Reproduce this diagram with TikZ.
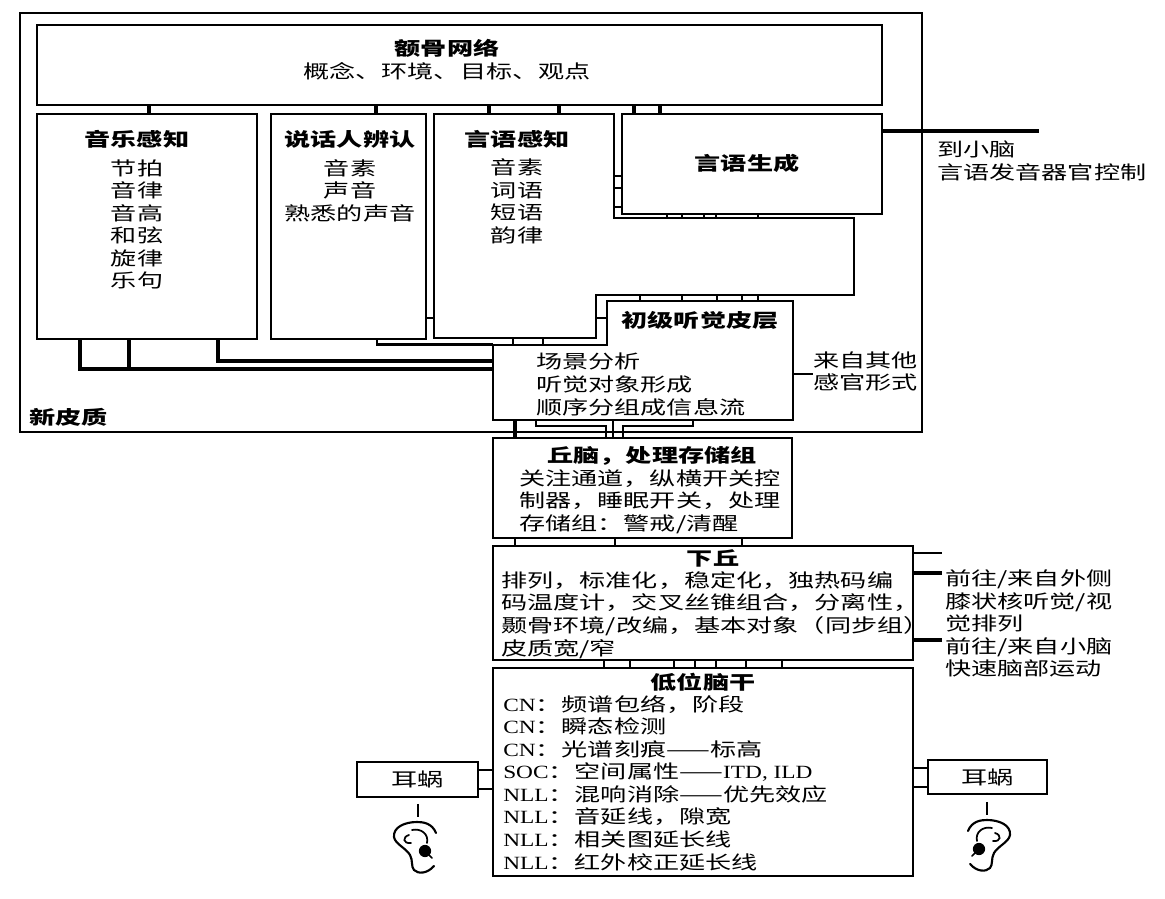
\documentclass[tikz,border=0pt]{standalone}
\usepackage{fontspec}
\setmainfont[FakeStretch=1.25]{Liberation Serif}
\newfontfamily\cjk[FakeStretch=1.4]{Noto Sans CJK SC}
\usetikzlibrary{fit}
\newcommand\lat[1]{{\rmfamily #1}}
\tikzset{
  box/.style={draw, line width=1.3pt, inner sep=0pt, fill=white},
  poly/.style={draw, line width=1.3pt, fill=white},
  conn/.style={line width=2.4pt},
  rung/.style={line width=1.6pt},
  thin/.style={line width=1.1pt},
  txt/.style={font=\cjk\fontsize{14}{16.9}\selectfont, inner sep=0pt},
  ttl/.style={font=\cjk\fontsize{14}{16.9}\selectfont\bfseries, inner sep=0pt},
  ear/.pic={
    \draw[line width=1.6pt, line cap=round] (21,-14) .. controls (17,-24) and (8,-25) .. (2,-25)
       .. controls (-10,-25) and (-22,-20) .. (-21,-10)
       .. controls (-20,-3) and (-9,1) .. (-5,8)
       .. controls (-2,13) and (-4,20) .. (-1,23)
       .. controls (3,27) and (12,27) .. (19,19);
    \draw[line width=1.3pt, line cap=round] (-6,-12) .. controls (-13,-10) and (-12,-3) .. (-4,-4);
    \draw[line width=1.3pt, line cap=round] (-3,-17) .. controls (6,-19) and (14,-13) .. (12,-4);
    \fill (10,4) circle (4.6pt);
    \draw[line width=1.3pt, line cap=round] (10,4) -- (17,11);
  }
}
\begin{document}
\begin{tikzpicture}[x=0.75pt,y=-0.75pt,line join=miter]
\useasboundingbox (0,0) rectangle (1165,899);
\fill[white] (0,0) rectangle (1165,899);

% neocortex outer box
\node[box, fill=none, fit={(20,13) (922,432)}] (neo) {};
\node[ttl, anchor=west] (neolbl) at (29,417) {新皮质};

% connectors (drawn first, boxes on top)
% music -> primary
\draw[conn] (80,339) -- (80,369) -- (493,369);
\draw[conn] (129,339) -- (129,369);
\draw[conn] (218,339) -- (218,361) -- (493,361);
% speaker -> primary
\draw[rung] (377,339) -- (377,344.5) -- (493,344.5);
% primary -> thalamus
\draw[conn] (515,420) -- (515,438);
\draw[rung] (536,420) -- (536,426) -- (606,426) -- (606,438);
\draw[rung] (613,420) -- (613,438);
\draw[rung] (623,438) -- (623,426) -- (693,426) -- (693,420);

% frontal network
\node[box, fit={(37,25) (882,105)}] (frontal) {};
\node[ttl] (frontalT) at (447,48) {额骨网络};
\node[txt] (frontalS) at (447,71) {概念、环境、目标、观点};

% stubs frontal -> boxes
\foreach \x in {149,376,489,559,634,660}
  \draw[conn] (\x,0 |- frontal.south) -- (\x,114);

% music perception
\node[box, fit={(37,114) (257,339)}] (music) {};
\node[ttl] (musicT) at (137,139) {音乐感知};
\node[txt, align=center] (musicI) at (137,224.5) {节拍\\音律\\音高\\和弦\\旋律\\乐句};

% speaker identification
\node[box, fit={(271,114) (426,339)}] (speaker) {};
\node[ttl] (speakerT) at (350,139) {说话人辨认};
\node[txt, align=center] (speakerI) at (350,190.5) {音素\\声音\\熟悉的声音};

% speech perception (L-shaped)
\coordinate (percNW) at (434,114);
\draw[poly] (percNW) -- (614,114) -- (614,218) -- (854,218) -- (854,295) -- (596,295) -- (596,338) -- (434,338) -- cycle;
\node[ttl] (percT) at (517,139) {言语感知};
\node[txt, align=center] (percI) at (517,201.5) {音素\\词语\\短语\\韵律};

% speech production
\node[box, fit={(622,114) (882,214)}] (prod) {};
\node[ttl] (prodT) at (747,163) {言语生成};

% rungs perception <-> production
\foreach \y in {176,188,207}
  \draw[rung] (614,\y) -- (prod.west |- 0,\y);
\foreach \x in {667,682,704,716,758}
  \draw[rung] (\x,0 |- prod.south) -- (\x,218);

% speaker <-> perception
\draw[thin] (speaker.east |- 0,318) -- (434,318);

% primary auditory cortex (L-shaped)
\coordinate (primNW) at (607,301);
\draw[poly] (primNW) -- (793,301) -- (793,420) -- (493,420) -- (493,345) -- (607,345) -- cycle;
\node[ttl] (primT) at (700,320) {初级听觉皮层};
\node[txt, align=left, anchor=west] (primI) at (536,384.5) {场景分析\\听觉对象形成\\顺序分组成信息流};

% rungs perception <-> primary
\foreach \x in {640,682,717,742,758}
  \draw[rung] (\x,295) -- (\x,301);
\foreach \x in {513,543}
  \draw[rung] (\x,338) -- (\x,345);
\draw[rung] (596,318) -- (607,318);

% other senses
\draw[rung] (793,374) -- (813,374);
\node[txt, align=left, anchor=west] (other) at (813,371.5) {来自其他\\感官形式};

% cerebellum from production
\draw[conn] (prod.east |- 0,131) -- (1039,131);
\node[txt, align=left, anchor=west] (cereb) at (937,161) {到小脑\\言语发音器官控制};

% thalamus
\node[box, fit={(493,438) (792,538)}] (thal) {};
\node[ttl] (thalT) at (652,456) {丘脑，处理存储组};
\node[txt, align=left, anchor=west] (thalI) at (519,501.5) {关注通道，纵横开关控\\制器，睡眠开关，处理\\存储组：警戒/清醒};

% inferior colliculus
\node[box, fit={(493,546) (913,660)}] (ic) {};
\node[ttl] (icT) at (713,558) {下丘};
\node[txt, align=left, anchor=west] (icI) at (501,615) {排列，标准化，稳定化，独热码编\\码温度计，交叉丝锥组合，分离性，\\颞骨环境/改编，基本对象（同步组）\\皮质宽/窄};
\foreach \x in {515,615,742}
  \draw[rung] (\x,0 |- thal.south) -- (\x,0 |- ic.north);

% IC right connectors
\draw[rung] (ic.east |- 0,553) -- (942,553);
\draw[conn] (ic.east |- 0,573) -- (942,573);
\draw[conn] (ic.east |- 0,640) -- (942,640);
\node[txt, align=left, anchor=west] (icR) at (945,623.5) {前往/来自外侧\\膝状核听觉/视\\觉排列\\前往/来自小脑\\快速脑部运动};

% lower brainstem
\node[box, fit={(493,668) (913,876)}] (bs) {};
\node[ttl] (bsT) at (703,682) {低位脑干};
\node[txt, align=left, anchor=west] (bsI) at (503,783) {\lat{CN}：频谱包络，阶段\\\lat{CN}：瞬态检测\\\lat{CN}：光谱刻痕——标高\\\lat{SOC}：空间属性——\lat{ITD, ILD}\\\lat{NLL}：混响消除——优先效应\\\lat{NLL}：音延线，隙宽\\\lat{NLL}：相关图延长线\\\lat{NLL}：红外校正延长线};
\foreach \x in {604,630,674,695,716,746,782}
  \draw[rung] (\x,0 |- ic.south) -- (\x,0 |- bs.north);

% cochleae
\node[box, fit={(357,762) (478,797)}] (cochL) {};
\node[txt] (cochLT) at (cochL.center) {耳蜗};
\node[box, fit={(928,760) (1047,794)}] (cochR) {};
\node[txt] (cochRT) at (cochR.center) {耳蜗};
\draw[rung] (cochL.east |- 0,770) -- (bs.west |- 0,770);
\draw[rung] (cochL.east |- 0,789) -- (bs.west |- 0,789);
\draw[rung] (bs.east |- 0,768) -- (cochR.west |- 0,768);
\draw[rung] (bs.east |- 0,787) -- (cochR.west |- 0,787);

% ears
\coordinate (tickL) at (418,817);
\coordinate (tickR) at (987,815);
\draw[thin] (418,0 |- cochL.south) ++(0,6) -- (tickL);
\draw[thin] (987,0 |- cochR.south) ++(0,7) -- (tickR);
\pic at (415,847) {ear};
\pic[xscale=-1] at (989,845) {ear};
\end{tikzpicture}
\end{document}
